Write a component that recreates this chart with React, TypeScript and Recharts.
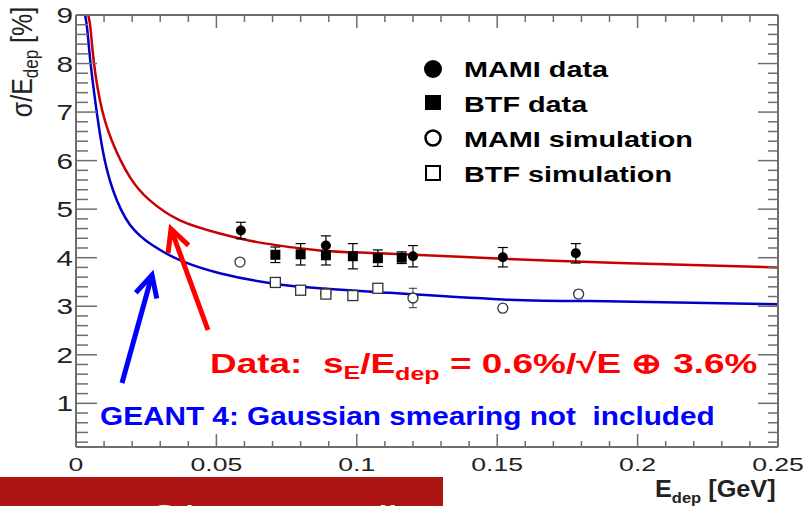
import React from "react";
import { ComposedChart, Line, Scatter, XAxis, YAxis, ErrorBar } from "recharts";

const FONT = "'Liberation Sans', Arial, Helvetica, sans-serif";
const AXIS = "#6e6e6e";

// fit curves
const redFitE = [0.0005, 0.0043, 0.0059, 0.0085, 0.0127, 0.0192, 0.0263, 0.037, 0.0512, 0.0666, 0.0868, 0.108, 0.152, 0.1936, 0.25];
const redFitV = [9, 9, 8.27, 7.25, 6.42, 5.66, 5.18, 4.77, 4.5, 4.3, 4.15, 4.09, 3.98, 3.89, 3.8];
const blueFitE = [0.0005, 0.0032, 0.0047, 0.0068, 0.0095, 0.0132, 0.0192, 0.0274, 0.037, 0.0512, 0.07, 0.0868, 0.108, 0.152, 0.1936, 0.25];
const blueFitV = [9, 9, 8.28, 7.25, 6.22, 5.39, 4.68, 4.25, 3.95, 3.68, 3.47, 3.37, 3.29, 3.14, 3.1, 3.04];

// measured points
const mamiDataE = [0.0587, 0.089, 0.12, 0.152, 0.178];
const mamiDataV = [4.56, 4.25, 4.03, 4.01, 4.09];
const mamiDataErr = [0.17, 0.2, 0.22, 0.2, 0.2];
const btfDataE = [0.071, 0.08, 0.089, 0.0986, 0.1075, 0.116];
const btfDataV = [4.06, 4.07, 4.05, 4.03, 3.99, 4.0];
const btfDataErr = [0.16, 0.22, 0.2, 0.26, 0.17, 0.12];
const mamiSimE = [0.0584, 0.089, 0.12, 0.152, 0.179];
const mamiSimV = [3.91, 3.27, 3.17, 2.96, 3.25];
const mamiSimErr = [0.06, 0.06, 0.2, 0.06, 0.08];
const btfSimE = [0.071, 0.08, 0.089, 0.0986, 0.1075];
const btfSimV = [3.49, 3.33, 3.25, 3.22, 3.37];

const xMajor = [0, 0.05, 0.1, 0.15, 0.2, 0.25];
const yMajor = [1, 2, 3, 4, 5, 6, 7, 8, 9];

const pts = (es: number[], vs: number[], errs?: number[]) =>
  es.map((e, i) => ({ e, v: vs[i], err: errs ? errs[i] : 0 }));

const redFit = pts(redFitE, redFitV);
const blueFit = pts(blueFitE, blueFitV);
const mamiData = pts(mamiDataE, mamiDataV, mamiDataErr);
const btfData = pts(btfDataE, btfDataV, btfDataErr);
const mamiSim = pts(mamiSimE, mamiSimV, mamiSimErr);
const btfSim = pts(btfSimE, btfSimV);

// minor ticks every 0.01 / 0.2
const xTicks: number[] = [];
for (let i = 0; i <= 25; i++) xTicks.push(i / 100);
const yTicks: number[] = [];
for (let i = 1; i <= 45; i++) yTicks.push((i * 2) / 10);

const isMajorX = (v: number) => xMajor.some((m) => Math.abs(m - v) < 1e-9);
const isMajorY = (v: number) => yMajor.some((m) => Math.abs(m - v) < 1e-9);

const BottomTick = (p: any) => {
  const { x, y, payload } = p;
  const major = isMajorX(payload.value);
  return (
    <g>
      <line x1={x} x2={x} y1={y} y2={y - (major ? 13 : 6)} stroke={AXIS} strokeWidth={1.5} />
      {major && (
        <text transform={`translate(${x},${y + 24}) scale(1.4,1)`} textAnchor="middle" fontSize={19} fill="#222" fontFamily={FONT}>
          {String(payload.value)}
        </text>
      )}
    </g>
  );
};

const TopTick = (p: any) => {
  const { x, y, payload } = p;
  const major = isMajorX(payload.value);
  return <line x1={x} x2={x} y1={y} y2={y + (major ? 13 : 7)} stroke={AXIS} strokeWidth={1.5} />;
};

const LeftTick = (p: any) => {
  const { x, y, payload } = p;
  const major = isMajorY(payload.value);
  return (
    <g>
      <line x1={x} x2={x + (major ? 21 : 12)} y1={y} y2={y} stroke={AXIS} strokeWidth={1.5} />
      {major && (
        <text transform={`translate(${x - 3},${y + 8}) scale(1.35,1)`} textAnchor="end" fontSize={22} fill="#222" fontFamily={FONT}>
          {String(payload.value)}
        </text>
      )}
    </g>
  );
};

const RightTick = (p: any) => {
  const { x, y, payload } = p;
  const major = isMajorY(payload.value);
  return <line x1={x} x2={x - (major ? 20 : 10)} y1={y} y2={y} stroke={AXIS} strokeWidth={1.5} />;
};

const dot = (p: any) => <circle cx={p.cx} cy={p.cy} r={5} fill="#000" />;
const square = (p: any) => <rect x={p.cx - 5} y={p.cy - 5} width={10} height={10} fill="#000" />;
const ring = (p: any) => <circle cx={p.cx} cy={p.cy} r={5} fill="#fff" stroke="#333" strokeWidth={1.3} />;
const box = (p: any) => <rect x={p.cx - 5} y={p.cy - 5} width={10} height={10} fill="#fff" stroke="#333" strokeWidth={1.3} />;

const arrow = (tail: number[], tip: number[], len: number, color: string) => {
  const dx = tail[0] - tip[0];
  const dy = tail[1] - tip[1];
  const d = Math.hypot(dx, dy);
  const ux = dx / d;
  const uy = dy / d;
  const a = (27 * Math.PI) / 180;
  const w1 = [tip[0] + len * (ux * Math.cos(a) - uy * Math.sin(a)), tip[1] + len * (ux * Math.sin(a) + uy * Math.cos(a))];
  const w2 = [tip[0] + len * (ux * Math.cos(a) + uy * Math.sin(a)), tip[1] + len * (-ux * Math.sin(a) + uy * Math.cos(a))];
  return (
    <g stroke={color} strokeWidth={5} fill="none">
      <line x1={tail[0]} y1={tail[1]} x2={tip[0]} y2={tip[1]} />
      <polyline points={`${w1[0]},${w1[1]} ${tip[0]},${tip[1]} ${w2[0]},${w2[1]}`} strokeLinejoin="miter" />
    </g>
  );
};

const legendRows = [
  { label: "MAMI data", y: 77, mark: <circle cx={433} cy={69} r={9} fill="#000" /> },
  { label: "BTF data", y: 112, mark: <rect x={425} y={95} width={16} height={15} fill="#000" /> },
  { label: "MAMI simulation", y: 147, mark: <circle cx={433} cy={138} r={7.5} fill="#fff" stroke="#000" strokeWidth={2.5} /> },
  { label: "BTF simulation", y: 182, mark: <rect x={426} y={166} width={14} height={14} fill="#fff" stroke="#000" strokeWidth={2} /> },
];

const axisProps = {
  type: "number" as const,
  interval: 0 as const,
  tickLine: false,
  tickSize: 0,
  tickMargin: 0,
  axisLine: { stroke: AXIS, strokeWidth: 2 },
  allowDataOverflow: true,
};

export default function App() {
  return (
    <div style={{ position: "absolute", left: 0, top: 0, width: 805, height: 506, background: "#fff", overflow: "hidden" }}>
      <ComposedChart width={805} height={506} margin={{ top: 14, right: 26, bottom: 29, left: 36 }}>
        <XAxis {...axisProps} dataKey="e" domain={[0, 0.25]} ticks={xTicks} height={30} tick={BottomTick} />
        <XAxis {...axisProps} xAxisId="top" orientation="top" dataKey="e" domain={[0, 0.25]} ticks={xTicks} height={1} tick={TopTick} />
        <YAxis {...axisProps} dataKey="v" domain={[0.1, 9]} ticks={yTicks} width={40} tick={LeftTick} />
        <YAxis {...axisProps} yAxisId="right" orientation="right" dataKey="v" domain={[0.1, 9]} ticks={yTicks} width={1} tick={RightTick} />
        <Line data={redFit} dataKey="v" type="natural" stroke="#c80000" strokeWidth={2.5} dot={false} isAnimationActive={false} />
        <Line data={blueFit} dataKey="v" type="natural" stroke="#0000c8" strokeWidth={2.5} dot={false} isAnimationActive={false} />
        <Scatter data={mamiSim} dataKey="v" shape={ring} isAnimationActive={false}>
          <ErrorBar dataKey="err" direction="y" width={4} stroke="#333" strokeWidth={1} />
        </Scatter>
        <Scatter data={btfSim} dataKey="v" shape={box} isAnimationActive={false} />
        <Scatter data={btfData} dataKey="v" shape={square} isAnimationActive={false}>
          <ErrorBar dataKey="err" direction="y" width={5} stroke="#000" strokeWidth={1.2} />
        </Scatter>
        <Scatter data={mamiData} dataKey="v" shape={dot} isAnimationActive={false}>
          <ErrorBar dataKey="err" direction="y" width={5} stroke="#000" strokeWidth={1.2} />
        </Scatter>
      </ComposedChart>

      <svg width={805} height={506} style={{ position: "absolute", left: 0, top: 0, pointerEvents: "none" }} fontFamily={FONT}>
        {/* axis titles */}
        <text transform="translate(32,62) rotate(-90) scale(1,1.15)" textAnchor="middle" fontSize={25} fill="#222">
          σ/E<tspan fontSize={17} dy={5}>dep</tspan><tspan dy={-5}> [%]</tspan>
        </text>
        <text transform="translate(655,497) scale(1.1,1)" fontSize={23} fontWeight="bold" fill="#222">
          E<tspan fontSize={15} dy={6}>dep</tspan><tspan dy={-6}> [GeV]</tspan>
        </text>

        {/* legend */}
        {legendRows.map((r) => (
          <g key={r.label}>
            {r.mark}
            <text transform={`translate(464,${r.y}) scale(1.31,1)`} fontSize={22} fontWeight="bold" fill="#000">{r.label}</text>
          </g>
        ))}

        {/* arrows */}
        {arrow([208, 330], [171, 229], 24, "#ff0000")}
        {arrow([122, 383], [152, 275], 24, "#0000ff")}

        {/* annotations */}
        <text transform="translate(210,373) scale(1.32,1)" fontSize={28} fontWeight="bold" fill="#ff0000" style={{ whiteSpace: "pre" }}>
          {"Data:  s"}<tspan fontSize={19} dy={6}>E</tspan><tspan dy={-6}>/E</tspan><tspan fontSize={19} dy={7}>dep</tspan>
          <tspan dy={-7}>{" = 0.6%/√E ⊕ 3.6%"}</tspan>
        </text>
        <text transform="translate(100,425) scale(1.19,1)" fontSize={25} fontWeight="bold" fill="#0000ff" style={{ whiteSpace: "pre" }}>
          {"GEANT 4: Gaussian smearing not  included"}
        </text>

        {/* watermark strip */}
        <rect x={0} y={477} width={443} height={29} fill="#ad1515" />
        <text x={140} y={537} fontSize={44} fill="#fff">@i</text>
        <text x={378} y={537} fontSize={44} fill="#fff">ll</text>
      </svg>
    </div>
  );
}
